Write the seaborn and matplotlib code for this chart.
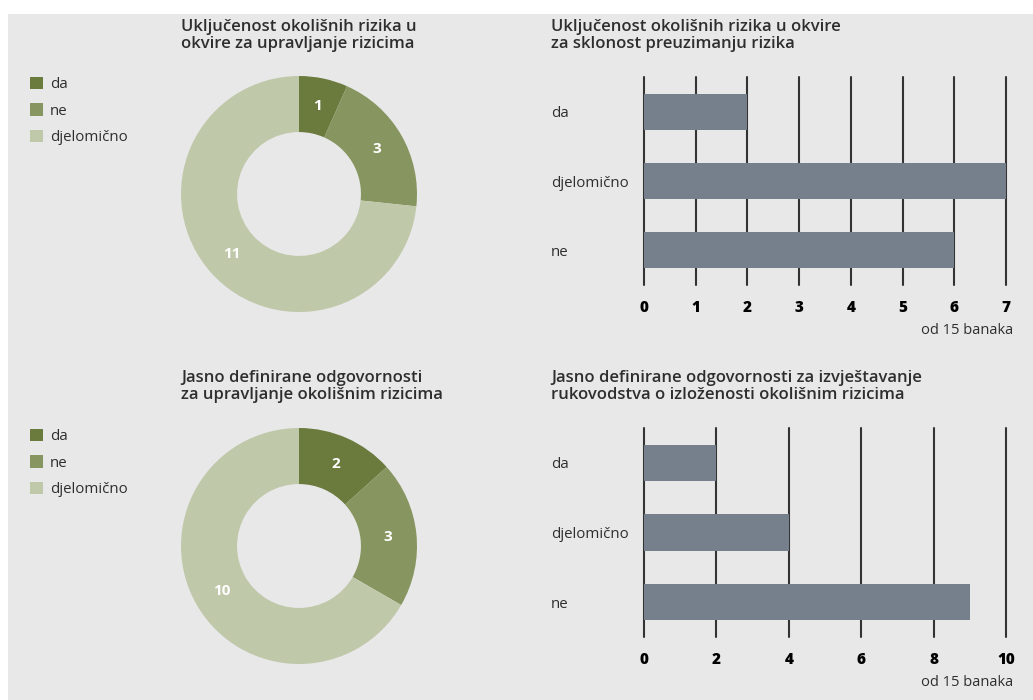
import matplotlib
matplotlib.use("Agg")
import matplotlib.pyplot as plt
from matplotlib.patches import Rectangle, Patch
import seaborn as sns
import pandas as pd

# ---- data ----
donut_cats = ["da", "ne", "djelomično"]
donut1_vals = [1, 3, 11]
donut2_vals = [2, 3, 10]
donut1_title = "Uključenost okolišnih rizika u\nokvire za upravljanje rizicima"
donut2_title = "Jasno definirane odgovornosti\nza upravljanje okolišnim rizicima"

bar_cats = ["da", "djelomično", "ne"]
bar1_vals = [2, 7, 6]
bar2_vals = [2, 4, 9]
bar1_ticks = [0, 1, 2, 3, 4, 5, 6, 7]
bar2_ticks = [0, 2, 4, 6, 8, 10]
bar1_title = "Uključenost okolišnih rizika u okvire\nza sklonost preuzimanju rizika"
bar2_title = "Jasno definirane odgovornosti za izvještavanje\nrukovodstva o izloženosti okolišnim rizicima"
note = "od 15 banaka"

# ---- style ----
sns.set_style("white")
plt.rcParams["font.family"] = ["Open Sans", "DejaVu Sans"]
BG = "#e8e8e8"
TXT = "#2e2e2e"
donut_colors = ["#6b7b3e", "#879660", "#c0c8aa"]
bar_color = "#76808c"
W, H = 1033, 700

fig = plt.figure(figsize=(W / 100, H / 100), dpi=100, facecolor="white")
fig.patches.append(Rectangle((8 / W, 0), 1, (H - 14) / H, transform=fig.transFigure,
                             facecolor=BG, edgecolor="none", zorder=-10))


def px(left, top, right, bottom):
    # pixel box -> figure fraction rect
    return [left / W, 1 - bottom / H, (right - left) / W, (bottom - top) / H]


def donut(vals, title, cy, title_y):
    ax = fig.add_axes(px(181, cy - 118, 417, cy + 118))
    total = sum(vals)
    wedges, _, autotexts = ax.pie(
        vals, colors=donut_colors, startangle=90, counterclock=False,
        wedgeprops=dict(width=0.475, edgecolor="none"),
        autopct=lambda p: f"{round(p * total / 100)}", pctdistance=0.76,
        textprops=dict(color="white", fontsize=11, fontweight="bold"))
    ax.set_xlim(-1, 1)
    ax.set_ylim(-1, 1)
    ax.set_facecolor("none")
    fig.text(181 / W, 1 - title_y / H, title, ha="left", va="top", fontsize=12,
             fontweight="semibold", color=TXT, linespacing=1.08)
    handles = [Patch(facecolor=c, edgecolor="none") for c in donut_colors]
    fig.legend(handles, donut_cats, loc="upper left",
               bbox_to_anchor=(16 / W, 1 - (cy - 131) / H), frameon=False,
               handlelength=0.9, handleheight=0.9, handletextpad=0.45,
               labelspacing=0.75, fontsize=10.8, labelcolor=TXT)


def bars(vals, ticks, title, top, bottom, title_y, note_y):
    ax = fig.add_axes(px(644, top, 1006, bottom))
    df = pd.DataFrame({"kategorija": bar_cats, "broj": vals})
    sns.barplot(data=df, x="broj", y="kategorija", orient="h", color=bar_color,
                saturation=1, width=0.52, linewidth=0, edgecolor="none", ax=ax)
    ax.set_xlim(ticks[0], ticks[-1])
    ax.set_ylim(2.5, -0.5)
    ax.set_xticks(ticks)
    ax.set_xlabel("")
    ax.set_ylabel("")
    ax.set_facecolor("none")
    for s in ax.spines.values():
        s.set_visible(False)
    ax.set_axisbelow(True)
    ax.grid(axis="x", color="#333333", linewidth=1.5)
    ax.grid(axis="y", visible=False)
    for line in ax.get_xgridlines():
        line.set_clip_on(False)
    ax.tick_params(axis="x", length=0, pad=11, labelsize=11, labelcolor="black")
    ax.tick_params(axis="y", length=0, pad=67, labelsize=10.8, labelcolor=TXT)
    for lab in ax.get_xticklabels():
        lab.set_fontweight("heavy")
    for lab in ax.get_yticklabels():
        lab.set_horizontalalignment("left")
    fig.text(551 / W, 1 - title_y / H, title, ha="left", va="top", fontsize=12,
             fontweight="semibold", color=TXT, linespacing=1.08)
    fig.text(1013 / W, 1 - note_y / H, note, ha="right", va="center",
             fontsize=10.5, color=TXT)


donut(donut1_vals, donut1_title, 194, 19)
donut(donut2_vals, donut2_title, 546, 370)
bars(bar1_vals, bar1_ticks, bar1_title, 77, 285, 19, 331)
bars(bar2_vals, bar2_ticks, bar2_title, 428, 637, 370, 683)

fig.savefig("out.png", dpi=100, facecolor=fig.get_facecolor())
